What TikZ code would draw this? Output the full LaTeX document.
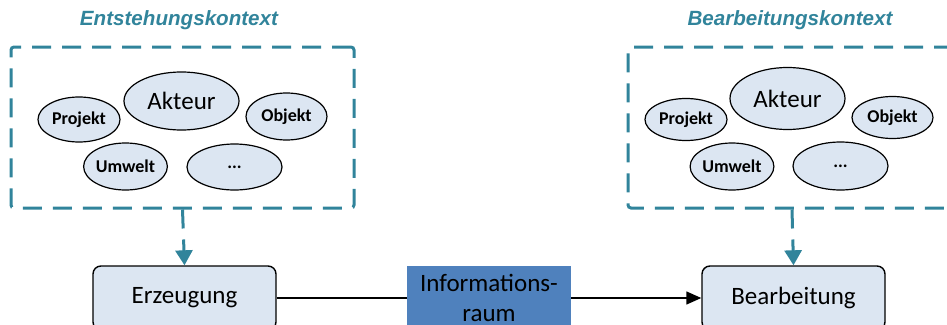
\documentclass[tikz,border=0pt]{standalone}
\usepackage{fontspec}
\setmainfont{Carlito}
\newfontfamily\titlefont{Liberation Sans}
\usetikzlibrary{shapes.geometric,arrows.meta}
\definecolor{teal1}{HTML}{31849B}
\definecolor{lightblue}{HTML}{DCE6F2}
\definecolor{midblue}{HTML}{4F81BD}
\tikzset{
  ctx/.style={draw=teal1, line width=3pt, dash pattern=on 19pt off 11pt, rounded corners=3pt},
  ctxarrow/.style={draw=teal1, line width=3pt, dash pattern=on 19pt off 11pt, -{Triangle[width=17pt,length=15pt,fill=teal1]}},
  ell/.style={ellipse, draw=black, line width=1.2pt, fill=lightblue, inner sep=0pt},
  small/.style={ell, font=\fontsize{18}{20}\selectfont\bfseries},
  big/.style={ell, font=\fontsize{25}{28}\selectfont},
  proc/.style={draw=black, line width=1.4pt, fill=lightblue, rounded corners=8pt, minimum width=183pt, minimum height=64pt, inner sep=0pt, font=\fontsize{25}{28}\selectfont},
  ttl/.style={text=teal1, font=\titlefont\fontsize{20.6}{24}\selectfont\bfseries\itshape},
}
\begin{document}
\begin{tikzpicture}[x=1pt,y=-1pt]
\useasboundingbox (0,0) rectangle (947,324);
\clip (0,0) rectangle (947,324);
% titles
\node[ttl] (t1) at (179,20) {Entstehungskontext};
\node[ttl] (t2) at (790,20) {Bearbeitungskontext};
% context boxes
\node[ctx, minimum width=343pt, minimum height=161pt, inner sep=0pt] (c1) at (182.5,127.5) {};
\node[ctx, minimum width=328pt, minimum height=161pt, inner sep=0pt] (c2) at (792,127.5) {};
% left ellipses
\node[big, minimum width=115pt, minimum height=58pt] (a1) at (181.5,101) {Akteur};
\node[small, minimum width=82pt, minimum height=45pt] (p1) at (79,119.5) {Projekt};
\node[small, minimum width=81pt, minimum height=47pt] (o1) at (286.5,116.5) {Objekt};
\node[small, minimum width=83pt, minimum height=47pt] (u1) at (125.5,166.5) {Umwelt};
\node[small, minimum width=95pt, minimum height=46pt] (d1) at (234.5,167) {...};
% right ellipses
\node[big, minimum width=115pt, minimum height=62pt] (a2) at (787.5,98.5) {Akteur};
\node[small, minimum width=82pt, minimum height=42pt] (p2) at (686,119.5) {Projekt};
\node[small, minimum width=81pt, minimum height=42pt] (o2) at (892.5,117.5) {Objekt};
\node[small, minimum width=82pt, minimum height=47pt] (u2) at (732,166.5) {Umwelt};
\node[small, minimum width=95pt, minimum height=48pt] (d2) at (840.5,166) {...};
% process boxes
\node[proc] (erz) at (184.5,298) {Erzeugung};
\node[proc] (bea) at (793.5,298) {Bearbeitung};
% connectors
\draw[line width=1.4pt, -{Triangle[width=13pt,length=15pt]}] (erz.east) -- (bea.west);
\draw[ctxarrow] (c1.south) -- (erz.north);
\draw[ctxarrow] (c2.south) -- (bea.north);
% information space
\node[fill=midblue, minimum width=164pt, minimum height=64pt, inner sep=0pt, align=center, font=\fontsize{25}{30}\selectfont] (info) at (489,298) {Informations-\\raum};
\end{tikzpicture}
\end{document}
